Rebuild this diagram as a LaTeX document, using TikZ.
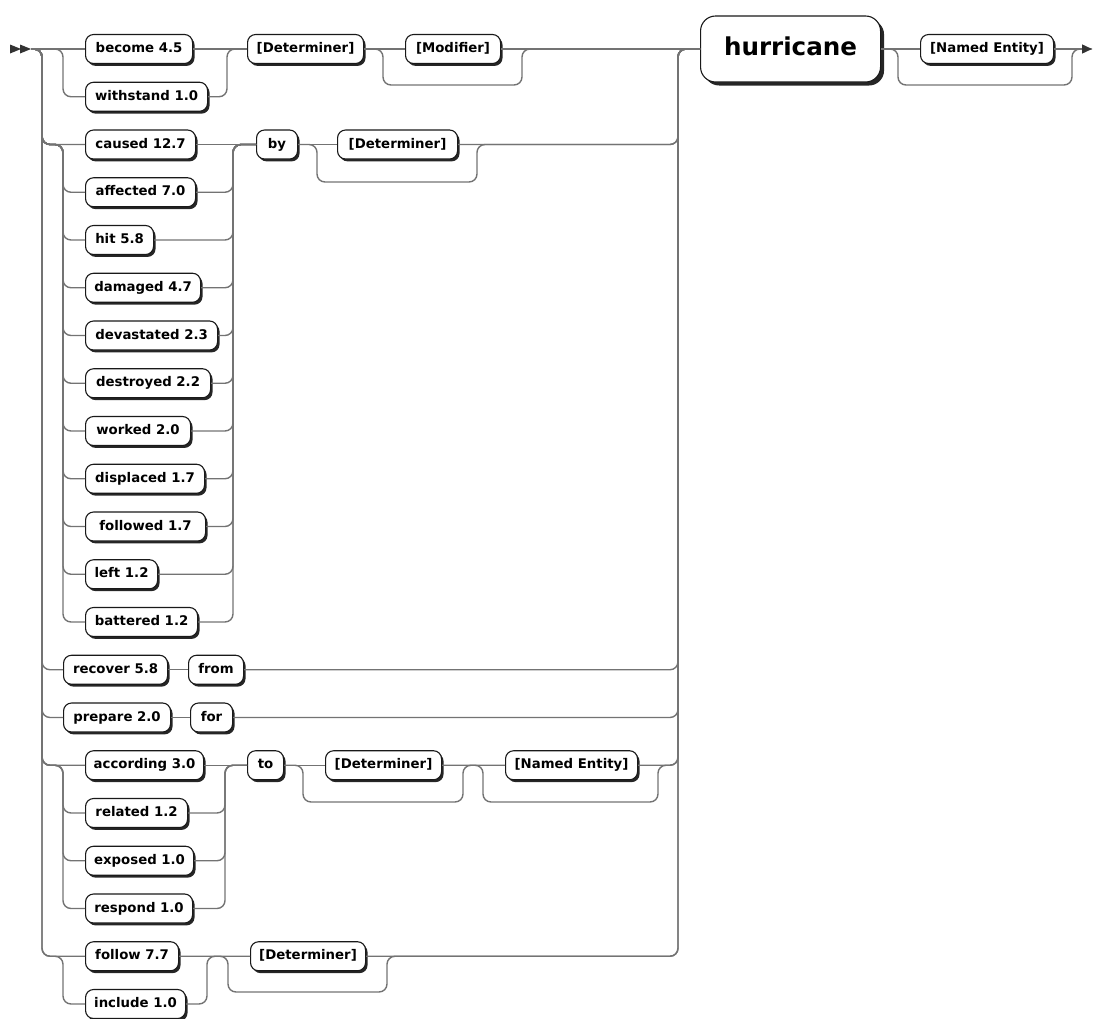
\documentclass[tikz,border=0pt]{standalone}
\usepackage{fontspec}
\setmainfont{DejaVu Sans}
\usetikzlibrary{shadows,arrows.meta}

\tikzset{
  rail/.style={draw=black!55, line width=1.4pt, rounded corners=8pt},
  boxbase/.style={draw=black!90, line width=1.1pt, fill=white, anchor=west,
    inner xsep=2pt, inner ysep=0pt},
  term/.style={boxbase, rounded corners=8pt, minimum height=29pt,
    text height=10pt, text depth=2.8pt,
    font=\bfseries\fontsize{13.3}{15}\selectfont,
    drop shadow={shadow xshift=2pt, shadow yshift=-2.4pt, fill=black!85, opacity=1}},
  bigterm/.style={boxbase, rounded corners=15pt, minimum height=66pt,
    text height=18pt, text depth=5pt,
    font=\bfseries\fontsize{24.6}{28}\selectfont,
    drop shadow={shadow xshift=3.5pt, shadow yshift=-3.5pt, fill=black!85, opacity=1}},
  tip/.style={fill=black!80, draw=none}
}

\begin{document}
\begin{tikzpicture}[x=1pt, y=-1pt]
\useasboundingbox (0,0) rectangle (1093,1018);

% entry and exit points
\fill[tip] (10,44.5) -- (21,49) -- (10,53.5) -- cycle;
\fill[tip] (20,44.5) -- (31,49) -- (20,53.5) -- cycle;
\coordinate (st) at (31,49);
\coordinate (en) at (1092,49);

% ---- terms ----
\node[term, minimum width=107pt] (become)    at (85,49)     {become 4.5};
\node[term, minimum width=122pt] (withstand) at (85,96.75)  {withstand 1.0};
\node[term, minimum width=116pt] (det1)      at (247,49)    {[Determiner]};
\node[term, minimum width=95pt]  (mod)       at (405,49)    {[Modifier]};
\node[bigterm, minimum width=180pt] (hur)    at (700,49)    {hurricane};
\node[term, minimum width=133pt] (ne1)       at (920,49)    {[Named Entity]};

\node[term, minimum width=110pt] (caused)     at (85,144.5)  {caused 12.7};
\node[term, minimum width=110pt] (affected)   at (85,192.25) {affected 7.0};
\node[term, minimum width=68pt]  (hit)        at (85,240)    {hit 5.8};
\node[term, minimum width=115pt] (damaged)    at (85,287.75) {damaged 4.7};
\node[term, minimum width=132pt] (devastated) at (85,335.5)  {devastated 2.3};
\node[term, minimum width=125pt] (destroyed)  at (85,383.25) {destroyed 2.2};
\node[term, minimum width=105pt] (worked)     at (85,431)    {worked 2.0};
\node[term, minimum width=119pt] (displaced)  at (85,478.75) {displaced 1.7};
\node[term, minimum width=120pt] (followed)   at (85,526.5)  {followed 1.7};
\node[term, minimum width=72pt]  (left)       at (85,574.25) {left 1.2};
\node[term, minimum width=112pt] (battered)   at (85,622)    {battered 1.2};
\node[term, minimum width=41pt]  (by)         at (256,144.5) {by};
\node[term, minimum width=120pt] (det2)       at (337,144.5) {[Determiner]};

\node[term, minimum width=104pt] (recover) at (63,669.75) {recover 5.8};
\node[term, minimum width=55pt]  (from)    at (188,669.75) {from};
\node[term, minimum width=107pt] (prepare) at (63,717.5)  {prepare 2.0};
\node[term, minimum width=42pt]  (for)     at (190,717.5) {for};

\node[term, minimum width=118pt] (according) at (85,765.25) {according 3.0};
\node[term, minimum width=102pt] (related)   at (85,813)    {related 1.2};
\node[term, minimum width=108pt] (exposed)   at (85,860.75) {exposed 1.0};
\node[term, minimum width=107pt] (respond)   at (85,908.5)  {respond 1.0};
\node[term, minimum width=36pt]  (to)        at (247,765.25) {to};
\node[term, minimum width=116pt] (det3)      at (325,765.25) {[Determiner]};
\node[term, minimum width=132pt] (ne2)       at (505,765.25) {[Named Entity]};

\node[term, minimum width=93pt]  (follow)  at (85,956.25) {follow 7.7};
\node[term, minimum width=100pt] (include) at (85,1004)   {include 1.0};
\node[term, minimum width=115pt] (det4)    at (250,956.25) {[Determiner]};

% ---- top branch ----
\draw[rail] (st) -- (become.west);
\draw[rail] (st) -| (63,96.75) -- (withstand.west);
\draw[rail] (become.east) -- (det1.west);
\draw[rail] (withstand.east) -| (227,49) -- (det1.west);
\draw[rail] (det1.east) -- (mod.west);
\draw[rail] (det1.east) -| (383,85) -| (522,49) -- (hur.west);
\draw[rail] (mod.east) -- (hur.west);
\draw[rail] (hur.east) -- (ne1.west);
\draw[rail] (hur.east) -| (898,85) -| (1072,49) -- (en);
\draw[rail, -{Triangle[length=10pt, width=9pt, color=black!80]}] (ne1.east) -- (en);

% ---- "by" branch ----
\draw[rail] (st) -| (42,144.5) -- (caused.west);
\foreach \n/\y in {affected/192.25, hit/240, damaged/287.75, devastated/335.5,
                   destroyed/383.25, worked/431, displaced/478.75, followed/526.5,
                   left/574.25, battered/622}{
  \draw[rail] (st) -| (42,144.5) -| (63,\y) -- (\n.west);
  \draw[rail] (\n.east) -| (233,144.5) -- (by.west);
}
\draw[rail] (caused.east) -- (by.west);
\draw[rail] (by.east) -- (det2.west);
\draw[rail] (by.east) -| (317,182) -| (477,144.5) -| (678,49) -- (hur.west);
\draw[rail] (det2.east) -| (678,49) -- (hur.west);

% ---- recover from / prepare for ----
\draw[rail] (st) -| (42,669.75) -- (recover.west);
\draw[rail] (recover.east) -- (from.west);
\draw[rail] (from.east) -| (678,49) -- (hur.west);
\draw[rail] (st) -| (42,717.5) -- (prepare.west);
\draw[rail] (prepare.east) -- (for.west);
\draw[rail] (for.east) -| (678,49) -- (hur.west);

% ---- "to" branch ----
\draw[rail] (st) -| (42,765.25) -- (according.west);
\foreach \n/\y in {related/813, exposed/860.75, respond/908.5}{
  \draw[rail] (st) -| (42,765.25) -| (63,\y) -- (\n.west);
  \draw[rail] (\n.east) -| (225,765.25) -- (to.west);
}
\draw[rail] (according.east) -- (to.west);
\draw[rail] (to.east) -- (det3.west);
\draw[rail] (to.east) -| (303,802) -| (463,765.25) -- (ne2.west);
\draw[rail] (det3.east) -- (ne2.west);
\draw[rail] (det3.east) -| (483,802) -| (658,765.25) -| (678,49) -- (hur.west);
\draw[rail] (ne2.east) -| (678,49) -- (hur.west);

% ---- follow / include ----
\draw[rail] (st) -| (42,956.25) -- (follow.west);
\draw[rail] (st) -| (42,956.25) -| (63,1004) -- (include.west);
\draw[rail] (follow.east) -- (det4.west);
\draw[rail] (include.east) -| (207,956.25) -- (det4.west);
\draw[rail] (follow.east) -| (228,992) -| (387,956.25) -| (678,49) -- (hur.west);
\draw[rail] (det4.east) -| (678,49) -- (hur.west);
\end{tikzpicture}
\end{document}
